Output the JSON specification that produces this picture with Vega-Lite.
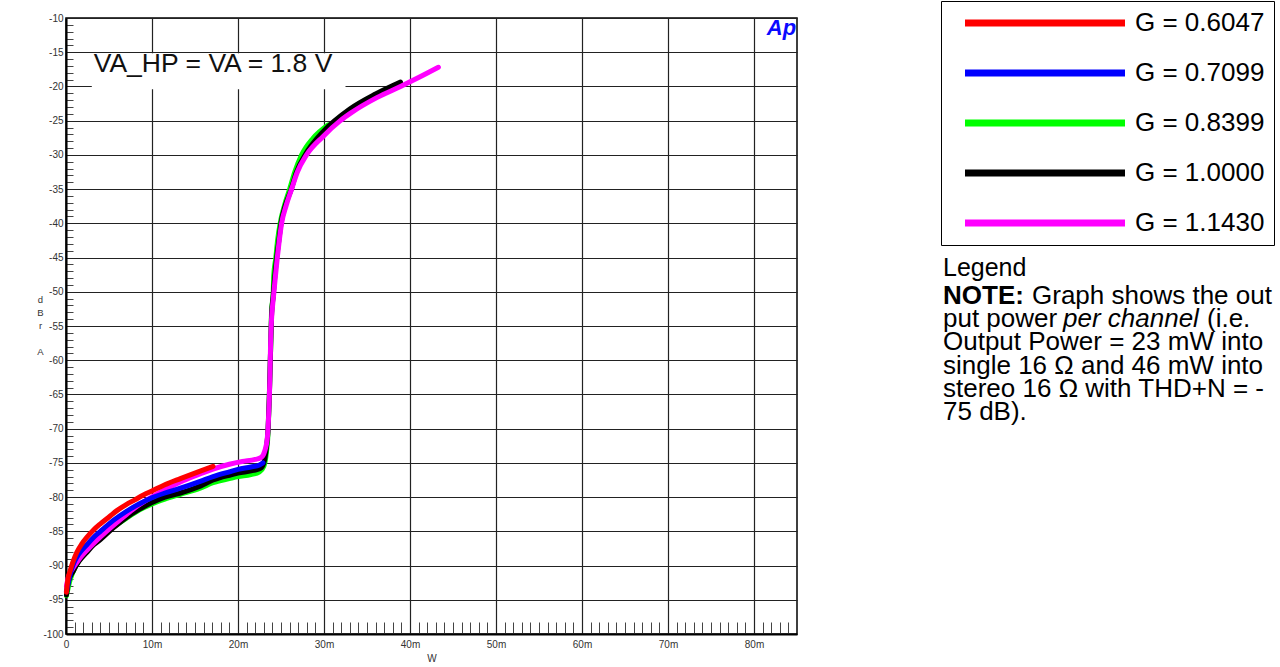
{
  "$schema": "https://vega.github.io/schema/vega-lite/v6.json",
  "autosize": {"type": "pad"},
  "padding": {"left": 36, "top": 0, "right": 0, "bottom": 0},
  "background": "white",
  "spacing": 145,
  "bounds": "flush",
  "config": {"font": "Liberation Sans"},
  "hconcat": [
    {
      "width": 731,
      "height": 616,
      "view": {"stroke": "#000", "strokeWidth": 1.5},
      "layer": [
        {
          "data": {"values": [{"x": 0.003, "xEnd": 0.0325, "y": -15.15, "yEnd": -20.4}]},
          "mark": {"type": "rect", "fill": "white", "stroke": null},
          "encoding": {
            "x": {"field": "x", "type": "quantitative"},
            "x2": {"field": "xEnd"},
            "y": {"field": "y", "type": "quantitative"},
            "y2": {"field": "yEnd"}
          }
        },
        {
          "data": {"values": [
            {"G":"G = 0.8399","x":0.00005,"y":-94.4},{"G":"G = 0.8399","x":0.0005,"y":-92.0},{"G":"G = 0.8399","x":0.001,"y":-90.4},{"G":"G = 0.8399","x":0.0015,"y":-89.3},{"G":"G = 0.8399","x":0.0024,"y":-87.9},{"G":"G = 0.8399","x":0.0032,"y":-86.8},{"G":"G = 0.8399","x":0.004,"y":-85.9},{"G":"G = 0.8399","x":0.0055,"y":-84.4},{"G":"G = 0.8399","x":0.007,"y":-83.1},{"G":"G = 0.8399","x":0.0085,"y":-81.9},{"G":"G = 0.8399","x":0.01,"y":-81.0},{"G":"G = 0.8399","x":0.0115,"y":-80.3},{"G":"G = 0.8399","x":0.0133,"y":-79.6},{"G":"G = 0.8399","x":0.0156,"y":-78.7},{"G":"G = 0.8399","x":0.0171,"y":-77.9},{"G":"G = 0.8399","x":0.019,"y":-77.3},{"G":"G = 0.8399","x":0.02,"y":-77.0},{"G":"G = 0.8399","x":0.0215,"y":-76.7},{"G":"G = 0.8399","x":0.0225,"y":-76.3},{"G":"G = 0.8399","x":0.023,"y":-75.5},{"G":"G = 0.8399","x":0.0233,"y":-73.5},{"G":"G = 0.8399","x":0.0235,"y":-70.5},{"G":"G = 0.8399","x":0.02365,"y":-65},{"G":"G = 0.8399","x":0.0238,"y":-58},{"G":"G = 0.8399","x":0.0239,"y":-53},{"G":"G = 0.8399","x":0.0241,"y":-50},{"G":"G = 0.8399","x":0.02415,"y":-47.8},{"G":"G = 0.8399","x":0.0244,"y":-45},{"G":"G = 0.8399","x":0.0246,"y":-42.5},{"G":"G = 0.8399","x":0.0249,"y":-40},{"G":"G = 0.8399","x":0.0254,"y":-37.4},{"G":"G = 0.8399","x":0.026,"y":-35},{"G":"G = 0.8399","x":0.0266,"y":-32.5},{"G":"G = 0.8399","x":0.0274,"y":-30},{"G":"G = 0.8399","x":0.0287,"y":-27.6},{"G":"G = 0.8399","x":0.0305,"y":-25.6},
            {"G":"G = 1.0000","x":0.00005,"y":-94.3},{"G":"G = 1.0000","x":0.0003,"y":-92.3},{"G":"G = 1.0000","x":0.00085,"y":-90.8},{"G":"G = 1.0000","x":0.0015,"y":-89.4},{"G":"G = 1.0000","x":0.0024,"y":-88.1},{"G":"G = 1.0000","x":0.0032,"y":-87.0},{"G":"G = 1.0000","x":0.004,"y":-86.2},{"G":"G = 1.0000","x":0.0055,"y":-84.5},{"G":"G = 1.0000","x":0.007,"y":-83.0},{"G":"G = 1.0000","x":0.0085,"y":-81.8},{"G":"G = 1.0000","x":0.01,"y":-80.8},{"G":"G = 1.0000","x":0.0115,"y":-80.0},{"G":"G = 1.0000","x":0.0133,"y":-79.4},{"G":"G = 1.0000","x":0.0156,"y":-78.4},{"G":"G = 1.0000","x":0.0171,"y":-77.5},{"G":"G = 1.0000","x":0.019,"y":-76.8},{"G":"G = 1.0000","x":0.02,"y":-76.5},{"G":"G = 1.0000","x":0.0218,"y":-76.1},{"G":"G = 1.0000","x":0.0226,"y":-75.8},{"G":"G = 1.0000","x":0.023,"y":-75.0},{"G":"G = 1.0000","x":0.0233,"y":-72.8},{"G":"G = 1.0000","x":0.0235,"y":-70},{"G":"G = 1.0000","x":0.02365,"y":-65},{"G":"G = 1.0000","x":0.0238,"y":-58},{"G":"G = 1.0000","x":0.0239,"y":-53.5},{"G":"G = 1.0000","x":0.0241,"y":-50.5},{"G":"G = 1.0000","x":0.02425,"y":-48.2},{"G":"G = 1.0000","x":0.0245,"y":-45},{"G":"G = 1.0000","x":0.02475,"y":-42.5},{"G":"G = 1.0000","x":0.025,"y":-40},{"G":"G = 1.0000","x":0.0255,"y":-37.4},{"G":"G = 1.0000","x":0.0262,"y":-35},{"G":"G = 1.0000","x":0.0268,"y":-32.5},{"G":"G = 1.0000","x":0.0278,"y":-30},{"G":"G = 1.0000","x":0.0299,"y":-26.6},{"G":"G = 1.0000","x":0.033,"y":-23.3},{"G":"G = 1.0000","x":0.036,"y":-21.1},{"G":"G = 1.0000","x":0.0389,"y":-19.35},
            {"G":"G = 1.1430","x":0.00005,"y":-93.0},{"G":"G = 1.1430","x":0.0003,"y":-91.6},{"G":"G = 1.1430","x":0.0008,"y":-90.4},{"G":"G = 1.1430","x":0.0015,"y":-89.1},{"G":"G = 1.1430","x":0.0024,"y":-87.8},{"G":"G = 1.1430","x":0.0035,"y":-86.4},{"G":"G = 1.1430","x":0.0047,"y":-85.0},{"G":"G = 1.1430","x":0.006,"y":-83.6},{"G":"G = 1.1430","x":0.00707,"y":-82.5},{"G":"G = 1.1430","x":0.0083,"y":-81.3},{"G":"G = 1.1430","x":0.0094,"y":-80.4},{"G":"G = 1.1430","x":0.0105,"y":-79.6},{"G":"G = 1.1430","x":0.012,"y":-78.6},{"G":"G = 1.1430","x":0.0133,"y":-77.8},{"G":"G = 1.1430","x":0.015,"y":-76.9},{"G":"G = 1.1430","x":0.0171,"y":-75.9},{"G":"G = 1.1430","x":0.019,"y":-75.2},{"G":"G = 1.1430","x":0.0205,"y":-74.8},{"G":"G = 1.1430","x":0.022,"y":-74.5},{"G":"G = 1.1430","x":0.0227,"y":-74.2},{"G":"G = 1.1430","x":0.0231,"y":-73.3},{"G":"G = 1.1430","x":0.0234,"y":-71.5},{"G":"G = 1.1430","x":0.02355,"y":-68.5},{"G":"G = 1.1430","x":0.0237,"y":-63},{"G":"G = 1.1430","x":0.0238,"y":-57},{"G":"G = 1.1430","x":0.0239,"y":-54},{"G":"G = 1.1430","x":0.0241,"y":-51},{"G":"G = 1.1430","x":0.0243,"y":-48.4},{"G":"G = 1.1430","x":0.02457,"y":-45},{"G":"G = 1.1430","x":0.0248,"y":-42.5},{"G":"G = 1.1430","x":0.02507,"y":-40},{"G":"G = 1.1430","x":0.0256,"y":-37.4},{"G":"G = 1.1430","x":0.02623,"y":-35},{"G":"G = 1.1430","x":0.0269,"y":-32.5},{"G":"G = 1.1430","x":0.02797,"y":-30},{"G":"G = 1.1430","x":0.0299,"y":-27.3},{"G":"G = 1.1430","x":0.0319,"y":-25.0},{"G":"G = 1.1430","x":0.0331,"y":-23.9},{"G":"G = 1.1430","x":0.0362,"y":-21.6},{"G":"G = 1.1430","x":0.0389,"y":-20.0},{"G":"G = 1.1430","x":0.041,"y":-18.7},{"G":"G = 1.1430","x":0.0433,"y":-17.2},
            {"G":"G = 0.7099","x":0.00005,"y":-93.8},{"G":"G = 0.7099","x":0.0005,"y":-91.2},{"G":"G = 0.7099","x":0.00085,"y":-89.8},{"G":"G = 0.7099","x":0.0015,"y":-88.3},{"G":"G = 0.7099","x":0.0024,"y":-87.0},{"G":"G = 0.7099","x":0.0032,"y":-85.9},{"G":"G = 0.7099","x":0.004,"y":-85.0},{"G":"G = 0.7099","x":0.0055,"y":-83.4},{"G":"G = 0.7099","x":0.007,"y":-82.1},{"G":"G = 0.7099","x":0.0085,"y":-81.0},{"G":"G = 0.7099","x":0.01,"y":-80.1},{"G":"G = 0.7099","x":0.0115,"y":-79.4},{"G":"G = 0.7099","x":0.0133,"y":-78.7},{"G":"G = 0.7099","x":0.0156,"y":-77.7},{"G":"G = 0.7099","x":0.0171,"y":-77.0},{"G":"G = 0.7099","x":0.019,"y":-76.3},{"G":"G = 0.7099","x":0.02,"y":-75.95},{"G":"G = 0.7099","x":0.0215,"y":-75.6},{"G":"G = 0.7099","x":0.0225,"y":-75.3},{"G":"G = 0.7099","x":0.0229,"y":-75.0},
            {"G":"G = 0.6047","x":0.00005,"y":-93.9},{"G":"G = 0.6047","x":0.0002,"y":-92.2},{"G":"G = 0.6047","x":0.0005,"y":-90.7},{"G":"G = 0.6047","x":0.0008,"y":-89.5},{"G":"G = 0.6047","x":0.00125,"y":-88.1},{"G":"G = 0.6047","x":0.0018,"y":-86.9},{"G":"G = 0.6047","x":0.0024,"y":-85.9},{"G":"G = 0.6047","x":0.0032,"y":-84.8},{"G":"G = 0.6047","x":0.004,"y":-83.9},{"G":"G = 0.6047","x":0.005,"y":-82.9},{"G":"G = 0.6047","x":0.006,"y":-81.9},{"G":"G = 0.6047","x":0.007,"y":-81.1},{"G":"G = 0.6047","x":0.008,"y":-80.4},{"G":"G = 0.6047","x":0.009,"y":-79.7},{"G":"G = 0.6047","x":0.01,"y":-79.1},{"G":"G = 0.6047","x":0.0115,"y":-78.2},{"G":"G = 0.6047","x":0.0133,"y":-77.3},{"G":"G = 0.6047","x":0.0156,"y":-76.2},{"G":"G = 0.6047","x":0.0171,"y":-75.5}
          ]},
          "mark": {"type": "line", "strokeWidth": 5, "strokeCap": "round", "strokeJoin": "round", "interpolate": "monotone"},
          "encoding": {
            "x": {
              "field": "x", "type": "quantitative",
              "scale": {"domain": [0, 0.085], "nice": false, "zero": false},
              "axis": {
                "title": "W", "titleFontSize": 10, "titleFontWeight": "normal", "titleColor": "#333", "titlePadding": 4,
                "tickCount": 200,
                "values": [0,0.001,0.002,0.003,0.004,0.005,0.006,0.007,0.008,0.009,0.01,0.011,0.012,0.013,0.014,0.015,0.016,0.017,0.018,0.019,0.02,0.021,0.022,0.023,0.024,0.025,0.026,0.027,0.028,0.029,0.03,0.031,0.032,0.033,0.034,0.035,0.036,0.037,0.038,0.039,0.04,0.041,0.042,0.043,0.044,0.045,0.046,0.047,0.048,0.049,0.05,0.051,0.052,0.053,0.054,0.055,0.056,0.057,0.058,0.059,0.06,0.061,0.062,0.063,0.064,0.065,0.066,0.067,0.068,0.069,0.07,0.071,0.072,0.073,0.074,0.075,0.076,0.077,0.078,0.079,0.08,0.081,0.082,0.083,0.084],
                "labelExpr": "round(datum.value*1000) % 10 === 0 ? (round(datum.value*1000) === 0 ? '0' : round(datum.value*1000) + 'm') : ''",
                "labelFontSize": 10, "labelColor": "#333", "labelPadding": 17, "labelOverlap": false, "labelFlush": false,
                "grid": true, "gridColor": "#222", "gridWidth": 1.2,
                "gridOpacity": {"condition": {"test": "round(datum.value*1000) % 10 === 0", "value": 1}, "value": 0},
                "tickSize": -12, "tickColor": "#444", "tickWidth": 1,
                "tickOpacity": {"condition": {"test": "round(datum.value*1000) % 10 === 0", "value": 0}, "value": 1},
                "domainColor": "#000", "domainWidth": 2
              }
            },
            "y": {
              "field": "y", "type": "quantitative",
              "scale": {"domain": [-100, -10], "nice": false, "zero": false},
              "axis": {
                "title": ["d", "B", "r", "\u200b", "A"], "titleAngle": 0, "titleX": -26, "titleY": 281, "titleAlign": "center", "titleBaseline": "middle",
                "titleFontSize": 9.5, "titleFontWeight": "normal", "titleColor": "#333", "titleLineHeight": 13,
                "tickCount": 200,
                "values": [-100,-99,-98,-97,-96,-95,-94,-93,-92,-91,-90,-89,-88,-87,-86,-85,-84,-83,-82,-81,-80,-79,-78,-77,-76,-75,-74,-73,-72,-71,-70,-69,-68,-67,-66,-65,-64,-63,-62,-61,-60,-59,-58,-57,-56,-55,-54,-53,-52,-51,-50,-49,-48,-47,-46,-45,-44,-43,-42,-41,-40,-39,-38,-37,-36,-35,-34,-33,-32,-31,-30,-29,-28,-27,-26,-25,-24,-23,-22,-21,-20,-19,-18,-17,-16,-15,-14,-13,-12,-11,-10],
                "labelExpr": "datum.value % 5 === 0 ? '' + datum.value : ''",
                "labelFontSize": 10, "labelColor": "#333", "labelPadding": 10, "labelOverlap": false, "labelFlush": false,
                "grid": true, "gridColor": "#222", "gridWidth": 1.2,
                "gridOpacity": {"condition": {"test": "datum.value % 5 === 0", "value": 1}, "value": 0},
                "tickSize": -7, "tickColor": "#444", "tickWidth": 1,
                "tickOpacity": {"condition": {"test": "datum.value % 5 === 0", "value": 0}, "value": 1},
                "domainColor": "#000", "domainWidth": 2
              }
            },
            "color": {
              "field": "G", "type": "nominal",
              "scale": {"domain": ["G = 0.6047", "G = 0.7099", "G = 0.8399", "G = 1.0000", "G = 1.1430"], "range": ["#ff0000", "#0000ff", "#00ff00", "#000000", "#ff00ff"]},
              "legend": {
                "orient": "none", "legendX": 875, "legendY": -17, "title": null,
                "symbolType": "stroke", "symbolSize": 25600, "symbolStrokeWidth": 7,
                "clipHeight": 26,
                "labelFontSize": 26, "labelColor": "#000", "labelOffset": 6.5, "labelLimit": 400,
                "rowPadding": 24, "padding": 9, "symbolOffset": 11.5,
                "strokeColor": "#000", "fillColor": "#fff"
              }
            }
          }
        },
        {
          "data": {"values": [{"label": "VA_HP = VA = 1.8 V", "x": 0.0171, "y": -17.85}]},
          "mark": {"type": "text", "fontSize": 26.5, "align": "center", "baseline": "alphabetic", "color": "#111"},
          "encoding": {
            "x": {"field": "x", "type": "quantitative"},
            "y": {"field": "y", "type": "quantitative"},
            "text": {"field": "label"}
          }
        },
        {
          "data": {"values": [{"label": "Ap", "x": 0.0849, "y": -12.53}]},
          "mark": {"type": "text", "fontSize": 22, "fontWeight": "bold", "fontStyle": "italic", "align": "right", "baseline": "alphabetic", "color": "#0a0aff"},
          "encoding": {
            "x": {"field": "x", "type": "quantitative"},
            "y": {"field": "y", "type": "quantitative"},
            "text": {"field": "label"}
          }
        }
      ]
    },
    {
      "width": 2,
      "height": 616,
      "view": {"stroke": null},
      "data": {"values": [
        {"line": 0, "segment": 1, "emphasis": "none", "text": "Legend"},
        {"line": 1, "segment": 1, "emphasis": "strong", "text": "NOTE:"},
        {"line": 1, "segment": 2, "emphasis": "none", "text": "Graph shows the out"},
        {"line": 2, "segment": 1, "emphasis": "none", "text": "put power"},
        {"line": 2, "segment": 2, "emphasis": "em", "text": "per channel"},
        {"line": 2, "segment": 3, "emphasis": "none", "text": "(i.e."},
        {"line": 3, "segment": 1, "emphasis": "none", "text": "Output Power = 23 mW into"},
        {"line": 4, "segment": 1, "emphasis": "none", "text": "single 16 Ω and 46 mW into"},
        {"line": 5, "segment": 1, "emphasis": "none", "text": "stereo 16 Ω with THD+N = -"},
        {"line": 6, "segment": 1, "emphasis": "none", "text": "75 dB)."}
      ]},
      "encoding": {
        "y": {"field": "line", "type": "ordinal", "scale": {"type": "point", "domain": [0, 1, 2, 3, 4, 5, 6], "range": [254.4, 394.2], "padding": 0}, "axis": null},
        "text": {"field": "text"}
      },
      "layer": [
        {"transform": [{"filter": "datum.line === 0"}], "mark": {"type": "text", "align": "left", "baseline": "middle", "fontSize": 25, "color": "#000", "dy": -4}},
        {"transform": [{"filter": "datum.line > 0 && datum.segment === 1 && datum.emphasis === 'none'"}], "mark": {"type": "text", "align": "left", "baseline": "middle", "fontSize": 26, "color": "#000"}},
        {"transform": [{"filter": "datum.emphasis === 'strong'"}], "mark": {"type": "text", "align": "left", "baseline": "middle", "fontSize": 26, "fontWeight": "bold", "color": "#000"}},
        {"transform": [{"filter": "datum.line === 1 && datum.segment === 2"}], "mark": {"type": "text", "align": "left", "baseline": "middle", "fontSize": 26, "color": "#000", "dx": 89}},
        {"transform": [{"filter": "datum.emphasis === 'em'"}], "mark": {"type": "text", "align": "left", "baseline": "middle", "fontSize": 26, "fontStyle": "italic", "color": "#000", "dx": 120}},
        {"transform": [{"filter": "datum.line === 2 && datum.segment === 3"}], "mark": {"type": "text", "align": "left", "baseline": "middle", "fontSize": 26, "color": "#000", "dx": 264}}
      ]
    }
  ]
}
